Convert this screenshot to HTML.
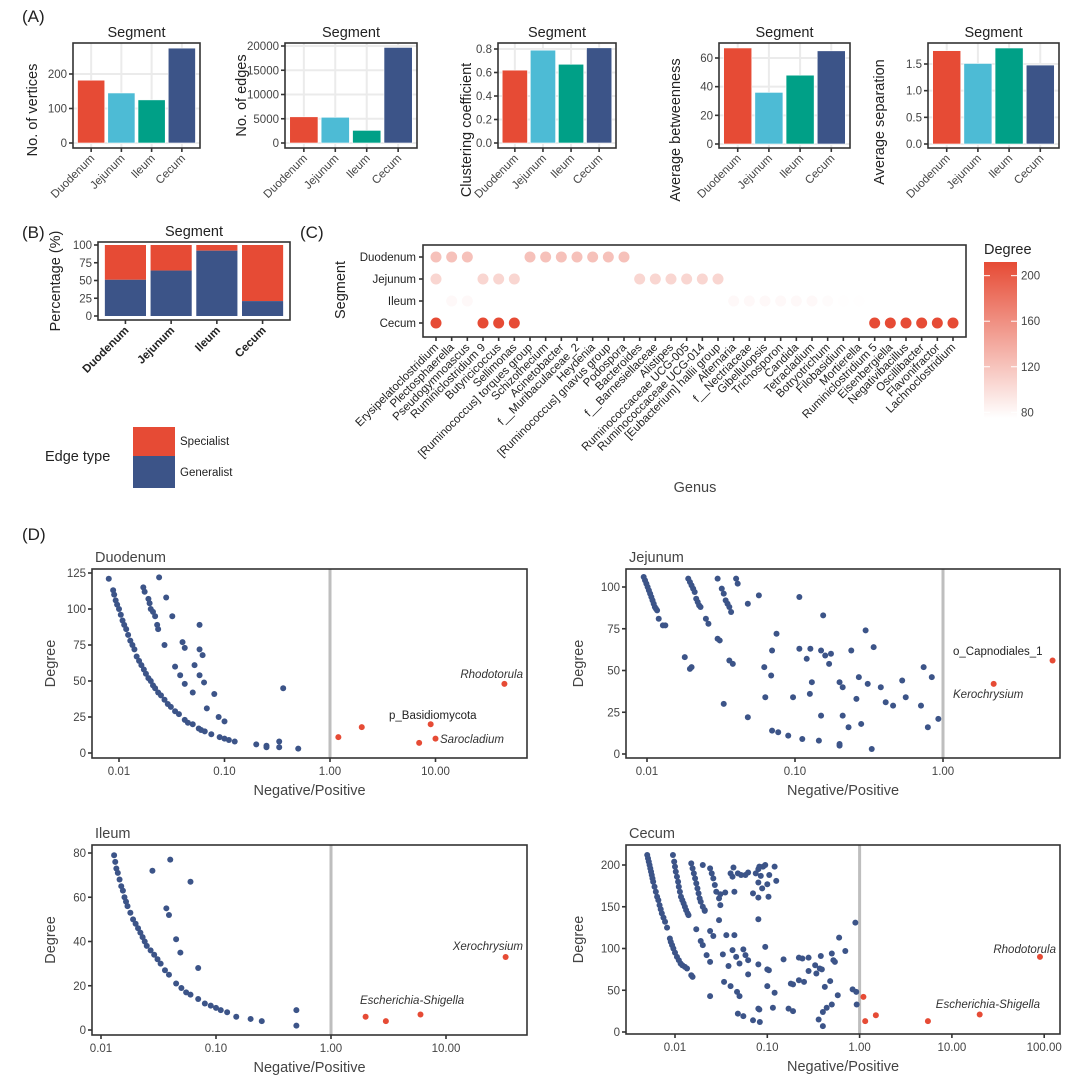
<!DOCTYPE html>
<html><head><meta charset="utf-8"><style>
body{margin:0;background:#fff;}
svg{display:block;font-family:"Liberation Sans",Arial,sans-serif;}
</style></head><body>
<svg id="fig" width="1080" height="1088" viewBox="0 0 1080 1088"></svg>
<script>
// ---------- DATA ----------
const segments=["Duodenum","Jejunum","Ileum","Cecum"];
const segColors=["#E64B35","#4DBBD5","#00A087","#3C5488"];
const vertices=[182,145,125,275];
const edges=[5400,5300,2600,19700];
const clustering=[0.62,0.79,0.67,0.81];
const betweenness=[67,36,48,65];
const separation=[1.75,1.51,1.8,1.48];
const generalistPct=[51,64,92,21];
const genera=["Erysipelatoclostridium","Plectosphaerella","Pseudogymnoascus","Ruminiclostridium 9","Butyricicoccus","Sellimonas","[Ruminococcus] torques group","Schizothecium","Acinetobacter","f__Muribaculaceae_2","Heydenia","[Ruminococcus] gnavus group","Podospora","Bacteroides","f__Barnesiellaceae","Alistipes","Ruminococcaceae UCG-005","Ruminococcaceae UCG-014","[Eubacterium] hallii group","Alternaria","f__Nectriaceae","Gibellulopsis","Trichosporon","Candida","Tetracladium","Botryotrichum","Filobasidium","Mortierella","Ruminiclostridium 5","Eisenbergiella","Negativibacillus","Oscillibacter","Flavonifractor","Lachnoclostridium"];
const dotSeg=[0,0,0,0,0,0,0,0,0,0, 1,1,1,1,1,1,1,1,1,1, 2,2,2,2,2,2,2,2,2,2,2, 3,3,3,3,3,3,3,3,3,3];
const dotGenus=[0,1,2,6,7,8,9,10,11,12, 0,3,4,5,13,14,15,16,17,18, 1,2,19,20,21,22,23,24,25,26,27, 0,3,4,5,28,29,30,31,32,33];
const dotDegree=[122,122,122,122,122,122,122,122,122,122, 106,106,106,106,106,106,106,106,106,106, 80,80,80,80,80,80,80,80,78,76,76, 212,212,212,212,212,212,212,212,212,212];

const duoX=[0.008,0.0088,0.009,0.0093,0.0096,0.01,0.0104,0.0108,0.0112,0.0117,0.0122,0.0128,0.0134,0.014,0.0147,0.0155,0.0163,0.0172,0.018,0.019,0.02,0.021,0.022,0.0235,0.025,0.027,0.029,0.031,0.034,0.037,0.042,0.045,0.05,0.057,0.06,0.065,0.075,0.09,0.1,0.11,0.125,0.017,0.0175,0.019,0.0195,0.02,0.021,0.022,0.023,0.0235,0.024,0.028,0.032,0.027,0.04,0.042,0.034,0.038,0.042,0.05,0.052,0.058,0.058,0.062,0.058,0.064,0.08,0.068,0.088,0.1,0.2,0.25,0.25,0.33,0.33,0.36,0.5];
const duoY=[121,113,110,106,103,100,96,92,89,86,82,78,75,72,67,64,61,58,55,52,50,47,45,42,40,37,34,32,29,27,23,21,20,17,16,15,13,11,10,9,8,115,112,107,104,100,98,95,89,86,122,108,95,75,77,73,60,54,48,42,61,89,72,68,54,49,41,31,25,22,6,5,4,8,4,45,3];
const duoRedX=[1.2,2,7,9,10,45];
const duoRedY=[11,18,7,20,10,48];

const jejX=[0.0095,0.0097,0.0099,0.0101,0.0103,0.0105,0.0107,0.0109,0.0111,0.0113,0.0115,0.0117,0.012,0.0128,0.0133,0.019,0.0195,0.02,0.0205,0.021,0.0215,0.022,0.0225,0.023,0.025,0.026,0.03,0.032,0.033,0.034,0.035,0.036,0.037,0.04,0.041,0.048,0.057,0.107,0.155,0.075,0.3,0.07,0.107,0.127,0.15,0.16,0.175,0.12,0.17,0.24,0.34,0.018,0.02,0.0195,0.03,0.031,0.036,0.038,0.062,0.069,0.74,0.84,0.27,0.31,0.2,0.21,0.38,0.53,0.13,0.063,0.097,0.126,0.26,0.56,0.41,0.46,0.71,0.033,0.048,0.15,0.21,0.93,0.28,0.23,0.79,0.07,0.077,0.09,0.112,0.145,0.2,0.2,0.33];
const jejY=[106,104,102,100,98,96,94,92,90,88,87,86,81,77,77,105,103,101,99,97,93,91,89,88,81,78,105,99,96,92,90,88,85,105,102,90,95,94,83,72,74,62,63,63,62,59,60,57,54,62,64,58,52,51,69,68,56,54,52,47,52,46,46,42,43,40,40,44,43,34,34,36,33,34,31,29,29,30,22,23,23,21,18,16,16,14,13,11,9,8,6,5,3];
const jejRedX=[2.2,5.5];
const jejRedY=[42,56];

const ileX=[0.013,0.0133,0.0136,0.014,0.0145,0.015,0.0155,0.016,0.0165,0.017,0.018,0.019,0.02,0.021,0.022,0.023,0.024,0.025,0.027,0.029,0.031,0.033,0.036,0.039,0.045,0.05,0.055,0.06,0.07,0.08,0.09,0.1,0.11,0.125,0.15,0.2,0.25,0.028,0.04,0.06,0.037,0.039,0.045,0.049,0.07,0.5,0.5];
const ileY=[79,76,73,71,68,65,63,60,58,56,53,50,48,46,44,42,40,38,36,34,32,30,27,25,21,19,17,16,14,12,11,10,9,8,6,5,4,72,77,67,55,52,41,35,28,9,2];
const ileRedX=[2,3,6,33];
const ileRedY=[6,4,7,33];

const cecX=[0.005,0.0051,0.0052,0.0053,0.0054,0.0055,0.0056,0.0057,0.0058,0.006,0.0062,0.0064,0.0066,0.0068,0.007,0.0072,0.0075,0.0078,0.0082,
0.0095,0.0098,0.01,0.0102,0.0105,0.0108,0.011,0.0113,0.0116,0.012,0.0124,0.0128,0.0132,0.0137,0.014,
0.0088,0.009,0.0093,0.0096,0.01,0.0105,0.011,0.0115,0.012,0.0128,0.0135,0.015,0.0155,
0.015,0.0155,0.016,0.0165,0.017,0.0175,0.018,0.0185,0.019,0.02,0.021,
0.02,0.024,0.025,0.026,0.027,0.028,0.03,0.031,
0.04,0.042,0.043,0.048,0.052,0.058,0.062,0.075,0.08,0.082,0.09,0.095,0.085,0.105,0.12,0.125,0.08,0.088,0.1,0.07,0.08,0.103,0.035,0.044,0.031,0.021,0.08,0.03,
0.017,0.024,0.026,0.036,0.044,0.019,0.02,0.022,0.024,0.033,0.038,0.042,0.046,0.05,0.055,0.058,0.062,0.062,0.08,0.095,0.1,0.104,0.15,0.22,0.24,0.28,0.38,0.33,0.37,0.39,0.28,0.34,0.5,0.52,0.54,0.7,0.6,0.9,0.034,0.04,0.047,0.05,0.024,0.1,0.12,0.18,0.19,0.22,0.25,0.42,0.48,0.84,0.92,0.58,0.115,0.17,0.19,0.08,0.082,0.048,0.055,0.07,0.083,0.36,0.4,0.4,0.44,0.5,0.93];
const cecY=[212,208,204,200,196,192,188,184,180,174,168,162,158,152,147,142,137,132,125,
212,204,198,192,186,180,174,168,162,158,154,150,146,142,140,
112,108,104,100,95,90,86,82,80,78,76,68,66,
202,196,190,184,178,172,166,160,156,150,146,
200,196,190,184,176,168,160,152,
190,186,197,190,188,188,191,190,195,198,198,200,187,188,198,181,179,172,177,166,161,162,167,168,165,145,135,134,
123,121,115,116,116,109,104,92,84,93,79,98,90,82,99,92,86,69,81,102,75,74,87,89,88,89,91,80,76,75,73,70,94,86,84,97,113,131,60,55,48,43,43,55,47,58,57,62,60,54,61,51,48,44,29,28,25,28,27,22,19,14,12,15,7,24,29,33,33];
const cecRedX=[1.1,1.15,1.5,5.5,20,90];
const cecRedY=[42,13,20,13,21,90];

// ---------- HELPERS ----------
const NS="http://www.w3.org/2000/svg";
const svg=document.getElementById('fig');
function el(tag,attrs,parent,text){const e=document.createElementNS(NS,tag);for(const k in attrs)e.setAttribute(k,attrs[k]);if(text!==undefined)e.textContent=text;(parent||svg).appendChild(e);return e;}
function txt(x,y,s,size,anchor,parent,extra){const t=el('text',Object.assign({x:x,y:y,'font-size':size,'text-anchor':anchor||'start',fill:'#222'},extra||{}),parent,s);return t;}

[["(A)",22,22],["(B)",22,238],["(C)",300,238],["(D)",22,540]].forEach(p=>{
  const t=txt(p[1],p[2],p[0],17,'start');
  
  
});

// ---------- PANEL A ----------
function barChart(cfg,values){
  const g=el('g',{});
  
  
  const L=cfg.l,R=cfg.r,T=43,B=148;
  const unit=(R-L)/4.2;
  const cx=i=>L+(0.6+i)*unit;
  const y=v=>cfg.y0-(v/cfg.tv)*(cfg.y0-cfg.ty);
  el('rect',{x:L,y:T,width:R-L,height:B-T,fill:'#fff'},g);
  cfg.ticks.forEach(tk=>{el('line',{x1:L,x2:R,y1:y(tk),y2:y(tk),stroke:'#EBEBEB','stroke-width':2},g);});
  for(let i=0;i<4;i++)el('line',{x1:cx(i),x2:cx(i),y1:T,y2:B,stroke:'#EBEBEB','stroke-width':2},g);
  values.forEach((v,i)=>{
    const r=el('rect',{x:cx(i)-0.45*unit,y:y(v),width:0.9*unit,height:y(0)-y(v),fill:segColors[i],stroke:'#fff','stroke-width':0.6},g);
    
    
  });
  el('rect',{x:L,y:T,width:R-L,height:B-T,fill:'none',stroke:'#333','stroke-width':1.6},g);
  cfg.ticks.forEach((tk,k)=>{
    el('line',{x1:L-4,x2:L,y1:y(tk),y2:y(tk),stroke:'#333','stroke-width':1.6},g);
    txt(L-6,y(tk)+4,cfg.labels[k],11.5,'end',g,{fill:'#444'});
  });
  segments.forEach((s,i)=>{
    el('line',{x1:cx(i),x2:cx(i),y1:B,y2:B+4,stroke:'#333','stroke-width':1.6},g);
    txt(cx(i)+4,B+11,s,11.5,'end',g,{fill:'#444',transform:`rotate(-45 ${cx(i)+4} ${B+11})`});
  });
  txt((L+R)/2,37,'Segment',14.5,'middle',g);
  const yc=cfg.yc||(T+B)/2;
  txt(cfg.yt,yc,cfg.title,14.5,'middle',g,{transform:`rotate(-90 ${cfg.yt} ${yc})`});
}
barChart({name:'chart-vertices',l:73,r:200,y0:143,ty:74,tv:200,ticks:[0,100,200],labels:['0','100','200'],yt:37,yc:110,title:'No. of vertices'},vertices);
barChart({name:'chart-edges',l:285,r:417,y0:143,ty:46,tv:20000,ticks:[0,5000,10000,15000,20000],labels:['0','5000','10000','15000','20000'],yt:246,title:'No. of edges'},edges);
barChart({name:'chart-clustering',l:498,r:616,y0:143,ty:49,tv:0.8,ticks:[0,0.2,0.4,0.6,0.8],labels:['0.0','0.2','0.4','0.6','0.8'],yt:471,yc:130,title:'Clustering coefficient'},clustering);
barChart({name:'chart-betweenness',l:719,r:850,y0:144,ty:58,tv:60,ticks:[0,20,40,60],labels:['0','20','40','60'],yt:680,yc:130,title:'Average betweenness'},betweenness);
barChart({name:'chart-separation',l:928,r:1059,y0:144,ty:64,tv:1.5,ticks:[0,0.5,1,1.5],labels:['0.0','0.5','1.0','1.5'],yt:884,yc:122,title:'Average separation'},separation);

// ---------- PANEL B ----------
(function(){
  const g=el('g',{});
  
  
  const L=98,R=290,T=242,B=320;
  const y=v=>316-v/100*(316-245);
  const unit=(R-L)/4.2, cx=i=>L+(0.6+i)*unit;
  segments.forEach((s,i)=>{
    const gp=generalistPct[i];
    const r1=el('rect',{x:cx(i)-0.45*unit,y:y(100),width:0.9*unit,height:y(gp)-y(100),fill:'#E64B35'},g);
    
    
    const r2=el('rect',{x:cx(i)-0.45*unit,y:y(gp),width:0.9*unit,height:y(0)-y(gp),fill:'#3C5488'},g);
    
    
    el('line',{x1:cx(i),x2:cx(i),y1:B,y2:B+4,stroke:'#333','stroke-width':1.6},g);
    txt(cx(i)+4,B+11,s,11.5,'end',g,{'font-weight':'bold',fill:'#222',transform:`rotate(-45 ${cx(i)+4} ${B+11})`});
  });
  el('rect',{x:L,y:T,width:R-L,height:B-T,fill:'none',stroke:'#333','stroke-width':1.6},g);
  [0,25,50,75,100].forEach(v=>{
    el('line',{x1:L-4,x2:L,y1:y(v),y2:y(v),stroke:'#333','stroke-width':1.6},g);
    txt(L-6,y(v)+4,String(v),11.5,'end',g,{fill:'#444'});
  });
  txt(194,236,'Segment',14.5,'middle',g);
  txt(60,281,'Percentage (%)',14.5,'middle',g,{transform:'rotate(-90 60 281)'});
  const lg=el('g',{},g);
  
  
  txt(45,461,'Edge type',14.5,'start',lg);
  el('rect',{x:133,y:427,width:42,height:29,fill:'#E64B35'},lg);
  el('rect',{x:133,y:456,width:42,height:32,fill:'#3C5488'},lg);
  txt(180,445,'Specialist',11.5,'start',lg);
  txt(180,476,'Generalist',11.5,'start',lg);
})();

// ---------- PANEL C ----------
(function(){
  const g=el('g',{});
  
  
  const L=423,R=966,T=245,B=337;
  const rowY=[257,279,301,323];
  const colX=i=>436+i*(953-436)/(genera.length-1);
  const col=d=>{let t=Math.max(0,Math.min(1,(d-75)/(212-75)));const a=[255,255,255],b=[230,75,53];return `rgb(${a.map((v,k)=>Math.round(v+(b[k]-v)*t)).join(',')})`;};
  el('rect',{x:L,y:T,width:R-L,height:B-T,fill:'#fff',stroke:'#333','stroke-width':1.6},g);
  segments.forEach((s,i)=>{
    el('line',{x1:L-4,x2:L,y1:rowY[i],y2:rowY[i],stroke:'#333','stroke-width':1.6},g);
    txt(L-7,rowY[i]+4,s,11.5,'end',g);
  });
  dotDegree.forEach((d,k)=>{
    const c=el('circle',{cx:colX(dotGenus[k]),cy:rowY[dotSeg[k]],r:5.5,fill:col(d)},g);
    
    
  });
  genera.forEach((n,i)=>{
    const x=colX(i);
    el('line',{x1:x,x2:x,y1:B,y2:B+4,stroke:'#333','stroke-width':1.6},g);
    txt(x+3,B+11,n,11.5,'end',g,{transform:`rotate(-45 ${x+3} ${B+11})`});
  });
  txt(695,492,'Genus',14.5,'middle',g,{fill:'#444'});
  txt(345,290,'Segment',14.5,'middle',g,{transform:'rotate(-90 345 290)'});
  const lg=el('g',{},g);
  
  
  const defs=el('defs',{},lg);
  const gr=el('linearGradient',{id:'dg',x1:0,y1:0,x2:0,y2:1},defs);
  el('stop',{offset:'0','stop-color':'#E64B35'},gr);
  el('stop',{offset:'1','stop-color':'#FFFFFF'},gr);
  txt(984,254,'Degree',14.5,'start',lg);
  el('rect',{x:984,y:262,width:33,height:156,fill:'url(#dg)'},lg);
  const ly=d=>262+(212-d)/(212-75)*156;
  [200,160,120,80].forEach(d=>{
    el('line',{x1:984,x2:990,y1:ly(d),y2:ly(d),stroke:'#fff','stroke-width':1},lg);
    el('line',{x1:1011,x2:1017,y1:ly(d),y2:ly(d),stroke:'#fff','stroke-width':1},lg);
    txt(1021,ly(d)+4,String(d),11.5,'start',lg,{fill:'#444'});
  });
})();

// ---------- PANEL D ----------
function scatter(cfg,xs,ys,rx,ry){
  const g=el('g',{});
  
  
  const {l,r,t,b}=cfg;
  const X=v=>cfg.x01+cfg.dec*Math.log10(v/0.01);
  const Y=v=>cfg.y0-(v/cfg.tv)*(cfg.y0-cfg.ty);
  el('rect',{x:l,y:t,width:r-l,height:b-t,fill:'#fff'},g);
  el('line',{x1:X(1),x2:X(1),y1:t,y2:b,stroke:'#BEBEBE','stroke-width':3},g);
  xs.forEach((v,i)=>{
    const c=el('circle',{cx:X(v),cy:Y(ys[i]),r:3,fill:'#3C5488'},g);
    
    
  });
  rx.forEach((v,i)=>{
    const c=el('circle',{cx:X(v),cy:Y(ry[i]),r:3,fill:'#E64B35'},g);
    
    
  });
  el('rect',{x:l,y:t,width:r-l,height:b-t,fill:'none',stroke:'#333','stroke-width':1.6},g);
  cfg.yticks.forEach(v=>{
    el('line',{x1:l-4,x2:l,y1:Y(v),y2:Y(v),stroke:'#333','stroke-width':1.6},g);
    txt(l-6,Y(v)+4,String(v),11.5,'end',g,{fill:'#444'});
  });
  cfg.xticks.forEach((v,k)=>{
    el('line',{x1:X(v),x2:X(v),y1:b,y2:b+4,stroke:'#333','stroke-width':1.6},g);
    txt(X(v),b+17,cfg.xlabels[k],11.5,'middle',g,{fill:'#444'});
  });
  txt(l+3,t-7,cfg.title,14.5,'start',g,{fill:'#444'});
  txt((l+r)/2,b+37,'Negative/Positive',14.5,'middle',g,{fill:'#444'});
  const yc=(t+b)/2;
  txt(cfg.ytx,yc,'Degree',14.5,'middle',g,{fill:'#444',transform:`rotate(-90 ${cfg.ytx} ${yc})`});
  cfg.notes.forEach(n=>txt(n[1],n[2],n[0],11.5,n[3],g,n[4]?{'font-style':'italic','fill':'#333'}:{fill:'#222'}));
}
scatter({name:'scatter-duodenum',title:'Duodenum',l:92,r:527,t:569,b:758,x01:119,dec:105.5,y0:753,ty:573,tv:125,yticks:[0,25,50,75,100,125],xticks:[0.01,0.1,1,10],xlabels:['0.01','0.10','1.00','10.00'],ytx:55,
 notes:[['Rhodotorula',523,678,'end',1],['p_Basidiomycota',389,719,'start',0],['Sarocladium',440,743,'start',1]]},duoX,duoY,duoRedX,duoRedY);
scatter({name:'scatter-jejunum',title:'Jejunum',l:626,r:1060,t:569,b:758,x01:647,dec:148,y0:754,ty:587,tv:100,yticks:[0,25,50,75,100],xticks:[0.01,0.1,1],xlabels:['0.01','0.10','1.00'],ytx:583,
 notes:[['o_Capnodiales_1',953,655,'start',0],['Kerochrysium',953,698,'start',1]]},jejX,jejY,jejRedX,jejRedY);
scatter({name:'scatter-ileum',title:'Ileum',l:92,r:527,t:845,b:1035,x01:101,dec:115,y0:1030,ty:853,tv:80,yticks:[0,20,40,60,80],xticks:[0.01,0.1,1,10],xlabels:['0.01','0.10','1.00','10.00'],ytx:55,
 notes:[['Xerochrysium',523,950,'end',1],['Escherichia-Shigella',360,1004,'start',1]]},ileX,ileY,ileRedX,ileRedY);
scatter({name:'scatter-cecum',title:'Cecum',l:626,r:1060,t:845,b:1034,x01:675,dec:92.3,y0:1032,ty:865,tv:200,yticks:[0,50,100,150,200],xticks:[0.01,0.1,1,10,100],xlabels:['0.01','0.10','1.00','10.00','100.00'],ytx:583,
 notes:[['Rhodotorula',1056,953,'end',1],['Escherichia-Shigella',1040,1008,'end',1]]},cecX,cecY,cecRedX,cecRedY);
</script>
</body></html>
